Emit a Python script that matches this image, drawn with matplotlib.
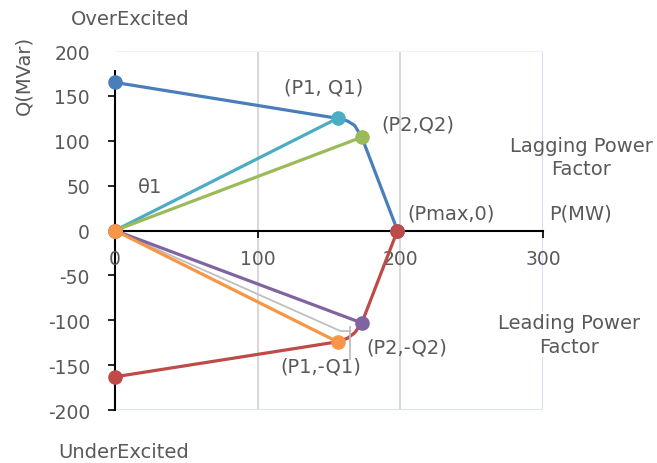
import numpy as np
import matplotlib.pyplot as plt

# capability curve, upper (over excited) and lower (under excited)
upper_p = [0, 156, 163, 168, 173, 198]
upper_q = [165, 125, 122, 117, 104, 0]
lower_p = [0, 156, 163, 168, 173, 198]
lower_q = [-163, -124, -120, -114, -103, 0]

# rays from origin
p1, q1 = 156, 125
p2, q2 = 173, 104
p1n, q1n = 156, -124
p2n, q2n = 173, -103

# thin grey leader
lead_p = [0, 158, 165]
lead_q = [0, -112, -112]
lead_vp = [165, 165]
lead_vq = [-107, -143]

xticks = [0, 100, 200, 300]
yticks = [-200, -150, -100, -50, 0, 50, 100, 150, 200]

txt = '#595959'
plt.rcParams['font.family'] = ['DejaVu Sans']
plt.rcParams['axes.unicode_minus'] = False

fig = plt.figure(figsize=(6.57, 4.64), dpi=100)
ax = fig.add_axes([0.175, 0.1142, 0.6515, 0.7737])
ax.set_xlim(0, 300)
ax.set_ylim(-200, 200)

# grid and faint plot border
for gx in [100, 200]:
    ax.axvline(gx, color='#d9d9d9', lw=1.5, zorder=0)
ax.axvline(300, color='#d3deee', lw=1.5, zorder=0)
ax.axhline(200, color='#eef2f8', lw=1.5, zorder=0)
ax.axhline(-200, color='#dde5f2', lw=1.5, zorder=0)

for s in ['top', 'right']:
    ax.spines[s].set_visible(False)
ax.spines['bottom'].set_position(('data', 0))
ax.spines['left'].set_bounds(-200, 178)
for s in ['bottom', 'left']:
    ax.spines[s].set_linewidth(1.5)
    ax.spines[s].set_zorder(1)

ax.set_xticks(xticks)
ax.set_yticks(yticks)
ax.tick_params(axis='x', length=5, width=1.2, pad=8, labelsize=13.5, labelcolor=txt)
ax.tick_params(axis='y', length=5, width=1.2, pad=13, labelsize=13.5, labelcolor=txt)
ax.yaxis.get_major_ticks()[-1].tick1line.set_visible(False)

lw = 2.3
ms = 9.5
kw = dict(lw=lw, marker='o', ms=ms, markevery=[0, -1], clip_on=False, solid_capstyle='round')
ax.plot(upper_p, upper_q, color='#4a7ebb', zorder=3, **kw)
ax.plot(lower_p, lower_q, color='#be4b48', zorder=3, **kw)
ax.plot(lead_p, lead_q, color='#bfbfbf', lw=1.3, zorder=3, clip_on=False)
ax.plot(lead_vp, lead_vq, color='#bfbfbf', lw=1.3, zorder=3, clip_on=False)
ax.plot([0, p1], [0, q1], color='#4bacc6', zorder=4, **kw)
ax.plot([0, p2], [0, q2], color='#9bbb59', zorder=4, **kw)
ax.plot([0, p2n], [0, q2n], color='#8064a2', zorder=4, **kw)
ax.plot([0, p1n], [0, q1n], color='#f79646', zorder=5, **kw)

fs = 14
def label(x, y, s, ha='left', **extra):
    ax.text(x, y, s, ha=ha, va='center', fontsize=fs, color=txt, clip_on=False, **extra)

label(11, 236, 'OverExcited', ha='center')
label(-64, 174, 'Q(MVar)', ha='center', rotation=90)
label(146, 160, '(P1, Q1)', ha='center')
label(186.5, 119, '(P2,Q2)')
label(24.5, 49, 'θ1', ha='center')
label(327, 82, 'Lagging Power\nFactor', ha='center', multialignment='center', linespacing=1.3)
label(205, 20, '(Pmax,0)')
label(304.5, 20, 'P(MW)')
label(318, -116, 'Leading Power\nFactor', ha='center', multialignment='center', linespacing=1.3,
      bbox=dict(facecolor='white', edgecolor='none', pad=1))
label(176.5, -130, '(P2,-Q2)')
label(144, -151, '(P1,-Q1)', ha='center')
label(6, -246, 'UnderExcited', ha='center')

fig.savefig('out.png', dpi=100)
